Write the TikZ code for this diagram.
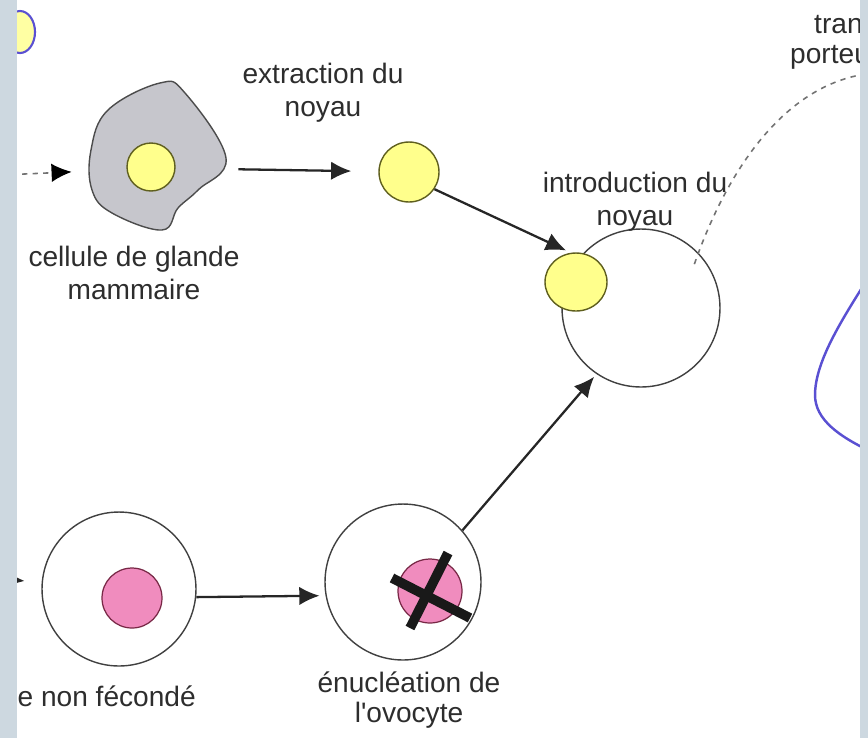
\documentclass[tikz,border=0pt]{standalone}
\usepackage{fontspec}
\setmainfont{Liberation Sans}
\usetikzlibrary{arrows.meta,shapes.geometric}

\definecolor{bande}{RGB}{205,216,224}
\definecolor{jaune}{RGB}{255,255,140}
\definecolor{olive}{RGB}{95,95,30}
\definecolor{rose}{RGB}{240,140,190}
\definecolor{bordeaux}{RGB}{120,40,70}
\definecolor{gris}{RGB}{198,198,204}
\definecolor{texte}{RGB}{45,45,45}
\definecolor{bleu}{RGB}{90,80,210}

\tikzset{
    fleche/.style={-{Latex[length=11.5pt,width=10.5pt]}, line width=1.3pt, black!85},
    pointille/.style={dash pattern=on 3pt off 3pt, line width=0.9pt, black!55},
    cellule/.style={circle, draw=black!75, line width=0.8pt, fill=white, inner sep=0pt},
    noyau/.style={circle, draw=olive, line width=0.8pt, fill=jaune, inner sep=0pt},
    noyaurose/.style={circle, draw=bordeaux, line width=0.7pt, fill=rose, inner sep=0pt},
    legende/.style={align=center, text=texte, font=\fontsize{16}{18.7}\selectfont},
}

\begin{document}
\begin{tikzpicture}[x=0.02cm,y=-0.02cm]
    \useasboundingbox (0,0) rectangle (868,738);

    % cell cut at the top left corner
    \draw[bleu, line width=1.2pt, fill=jaune!80!white] (20,32) ellipse (15 and 21);

    % mammary cell
    \draw[fill=gris, draw=black!70, line width=0.8pt] plot[smooth cycle, tension=0.65]
        coordinates {(91,150) (108,110) (160,83) (185,93) (226,158) (198,190) (178,208) (162,230) (112,213) (92,190)};
    \node[circle, minimum size=3cm] (glande) at (158,168) {};
    \node[noyau, minimum size=0.96cm] (nucglande) at (151,167) {};

    % nuclei and oocytes
    \node[noyau, minimum size=1.2cm] (n1) at (409,172) {};
    \node[cellule, minimum size=3.16cm] (grand) at (641,308) {};
    \node[noyau, ellipse, minimum width=1.24cm, minimum height=1.16cm] (ny) at (576,282) {};
    \node[cellule, minimum size=3.08cm] (ov) at (119,589) {};
    \node[noyaurose, minimum size=1.2cm] (rose1) at (132,598) {};
    \node[cellule, minimum size=3.12cm] (en) at (403,582) {};
    \node[noyaurose, minimum size=1.28cm] (rose2) at (430,591) {};

    % the cross on the removed nucleus
    \draw[line width=5.5pt, black!90] (392,578) -- (470,618);
    \draw[line width=5.5pt, black!90] (448,553) -- (410,628);

    % arrows
    \coordinate (hors) at (-20,176);
    \coordinate (gauche) at (-10,578);
    \draw[pointille, -{Latex[length=11.5pt,width=10.5pt,color=black]}, shorten >=0.22cm] (hors) -- (glande);
    \draw[fleche, shorten >=0.34cm] (gauche) -- (ov);
    \draw[fleche, shorten <=0.1cm, shorten >=0.54cm] (glande) -- (n1);
    \draw[fleche, shorten >=3pt] (n1.-34) -- (ny.100);
    \draw[fleche, shorten >=0.12cm] (ov.-6) -- (en.190);
    \draw[fleche, shorten >=2pt] (en.41) -- (grand.236);

    % dotted path towards the foster mother
    \coordinate (haut) at (866,74);
    \coordinate (arrivee) at (693,268);
    \draw[pointille] (haut) .. controls (790,85) and (730,160) .. (arrivee);

    % outline on the right
    \draw[bleu, line width=1.4pt] (870,275) .. controls (845,315) and (815,360) .. (815,395)
        .. controls (815,420) and (840,437) .. (872,452);

    % labels
    \node[legende] (glandetxt) at (134,273) {cellule de glande\\mammaire};
    \node[legende] (extraction) at (323,93) {extraction du\\noyau};
    \node[legende] (introduction) at (635,202) {introduction du\\noyau};
    \node[legende] (enucleation) at (409,700) {énucléation de\\[-2pt]l\textquotesingle ovocyte};
    \node[legende, anchor=east] (fecond) at (202,696) {e non fécondé};
    \node[legende, anchor=west] (tran) at (808,25) {tran};
    \node[legende, anchor=west] (porteu) at (784,57) {porteu};

    % side bands
    \fill[bande] (0,0) rectangle (17,738);
    \fill[bande] (860,0) rectangle (868,738);

\end{tikzpicture}
\end{document}
